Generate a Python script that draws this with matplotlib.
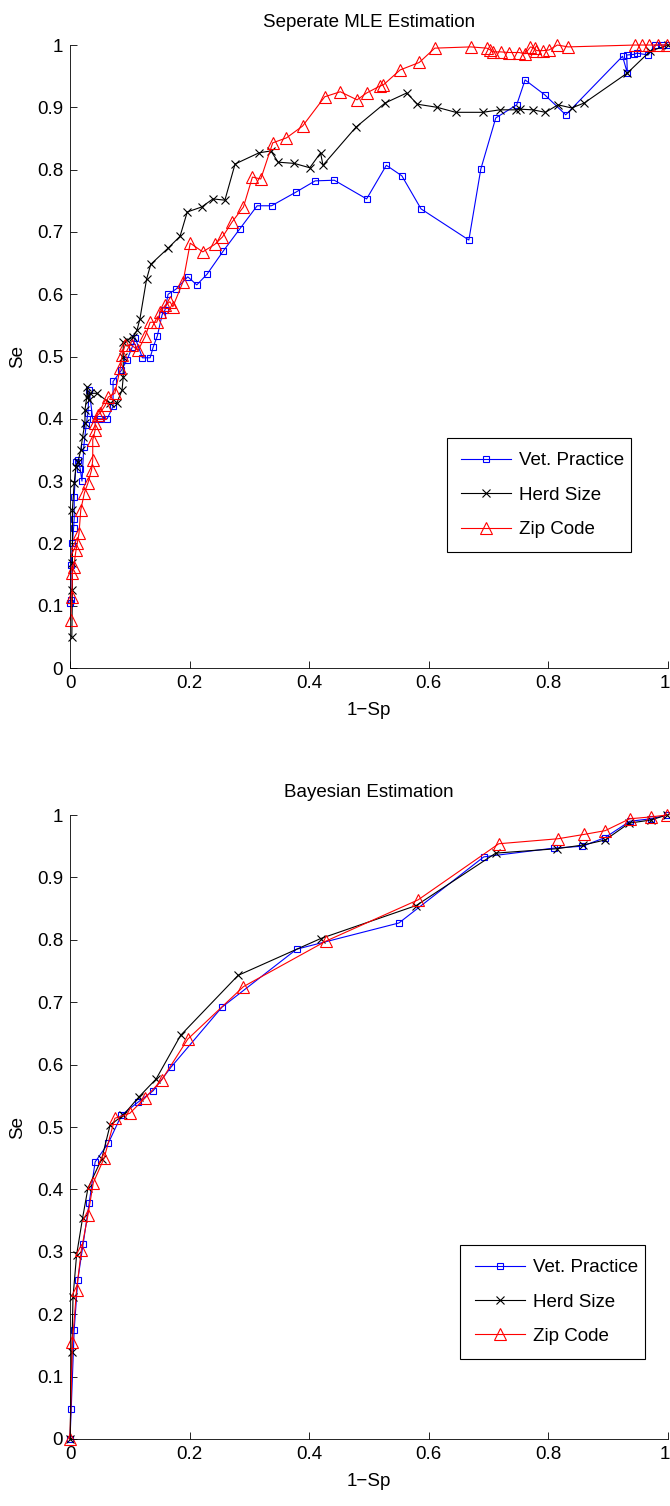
import matplotlib
matplotlib.use("Agg")
import matplotlib.pyplot as plt
from matplotlib.transforms import ScaledTranslation

plt.rcParams['font.family'] = ['Liberation Sans', 'DejaVu Sans']

# Seperate MLE estimation (1-Sp, Se)
mle_vet_x = [0.0, 0.001, 0.002, 0.004, 0.006, 0.007, 0.007, 0.01, 0.013, 0.017, 0.02, 0.023, 0.027, 0.03,
             0.032, 0.038, 0.05, 0.062, 0.072, 0.072, 0.086, 0.095, 0.104, 0.109, 0.121, 0.134, 0.139, 0.146,
             0.154, 0.159, 0.164, 0.177, 0.197, 0.212, 0.229, 0.256, 0.284, 0.313, 0.337, 0.378, 0.41, 0.442,
             0.496, 0.529, 0.555, 0.587, 0.667, 0.687, 0.712, 0.747, 0.761, 0.794, 0.829, 0.924, 0.932,
             0.931, 0.943, 0.948, 0.967, 0.978, 0.99, 1.0]
mle_vet_y = [0.105, 0.109, 0.165, 0.2, 0.225, 0.24, 0.275, 0.33, 0.334, 0.32, 0.30, 0.355, 0.39, 0.41,
             0.446, 0.40, 0.40, 0.40, 0.42, 0.46, 0.478, 0.494, 0.515, 0.53, 0.498, 0.498, 0.515, 0.533,
             0.567, 0.575, 0.60, 0.608, 0.628, 0.615, 0.632, 0.669, 0.705, 0.742, 0.742, 0.764, 0.782, 0.783,
             0.753, 0.807, 0.79, 0.737, 0.687, 0.801, 0.883, 0.904, 0.944, 0.92, 0.888, 0.982, 0.955,
             0.984, 0.985, 0.987, 0.984, 1.0, 1.0, 1.0]
mle_herd_x = [0.003, 0.004, 0.004, 0.004, 0.007, 0.01, 0.013, 0.018, 0.021, 0.025, 0.025, 0.028, 0.029,
              0.031, 0.034, 0.045, 0.067, 0.078, 0.087, 0.089, 0.089, 0.089, 0.095, 0.105, 0.112, 0.117,
              0.128, 0.135, 0.164, 0.184, 0.196, 0.220, 0.239, 0.259, 0.276, 0.316, 0.336, 0.348, 0.375,
              0.401, 0.419, 0.423, 0.478, 0.527, 0.563, 0.581, 0.614, 0.645, 0.69, 0.719, 0.746, 0.753,
              0.774, 0.795, 0.816, 0.839, 0.86, 0.932, 0.97, 1.0]
mle_herd_y = [0.05, 0.125, 0.168, 0.254, 0.297, 0.323, 0.33, 0.35, 0.371, 0.393, 0.414, 0.435, 0.451,
              0.43, 0.441, 0.441, 0.425, 0.425, 0.446, 0.467, 0.5, 0.523, 0.526, 0.531, 0.542, 0.561,
              0.624, 0.648, 0.674, 0.693, 0.732, 0.740, 0.753, 0.751, 0.809, 0.827, 0.830, 0.812, 0.81,
              0.803, 0.827, 0.807, 0.868, 0.907, 0.923, 0.905, 0.90, 0.892, 0.892, 0.896, 0.896, 0.897,
              0.896, 0.892, 0.904, 0.899, 0.907, 0.955, 0.99, 1.0]
mle_zip_x = [0.001, 0.003, 0.004, 0.006, 0.01, 0.012, 0.015, 0.018, 0.024, 0.03, 0.036, 0.038, 0.038,
             0.042, 0.042, 0.046, 0.05, 0.059, 0.064, 0.075, 0.084, 0.087, 0.092, 0.103, 0.114, 0.126,
             0.134, 0.145, 0.151, 0.159, 0.167, 0.172, 0.189, 0.201, 0.222, 0.242, 0.255, 0.271, 0.290,
             0.305, 0.319, 0.339, 0.362, 0.389, 0.426, 0.452, 0.480, 0.496, 0.518, 0.524, 0.552, 0.584,
             0.610, 0.67, 0.697, 0.703, 0.708, 0.72, 0.734, 0.751, 0.761, 0.770, 0.777, 0.78, 0.791,
             0.801, 0.815, 0.833, 0.945, 0.956, 0.968, 0.983, 0.998]
mle_zip_y = [0.077, 0.114, 0.152, 0.162, 0.189, 0.2, 0.216, 0.254, 0.281, 0.297, 0.318, 0.334, 0.366,
             0.382, 0.393, 0.406, 0.409, 0.422, 0.435, 0.441, 0.481, 0.502, 0.518, 0.518, 0.51, 0.533,
             0.555, 0.555, 0.571, 0.582, 0.588, 0.58, 0.62, 0.682, 0.668, 0.68, 0.692, 0.716, 0.74,
             0.788, 0.785, 0.843, 0.851, 0.870, 0.917, 0.925, 0.912, 0.923, 0.934, 0.936, 0.960, 0.972,
             0.995, 0.997, 0.995, 0.992, 0.989, 0.989, 0.988, 0.988, 0.986, 0.997, 0.995, 0.991, 0.991,
             0.992, 1.0, 0.997, 1.0, 1.0, 1.0, 1.0, 1.0]

# Bayesian estimation (1-Sp, Se)
bay_vet_x = [0.0, 0.002, 0.007, 0.013, 0.022, 0.032, 0.042, 0.064, 0.086, 0.114, 0.139, 0.169, 0.254,
             0.379, 0.550, 0.692, 0.809, 0.857, 0.895, 0.936, 0.971, 0.998]
bay_vet_y = [0.0, 0.048, 0.175, 0.255, 0.313, 0.378, 0.444, 0.474, 0.519, 0.540, 0.558, 0.596, 0.692,
             0.785, 0.827, 0.933, 0.947, 0.950, 0.964, 0.99, 0.994, 1.0]
bay_herd_x = [0.0, 0.003, 0.005, 0.011, 0.021, 0.03, 0.053, 0.067, 0.089, 0.115, 0.144, 0.185, 0.281,
              0.419, 0.579, 0.712, 0.814, 0.858, 0.895, 0.935, 0.971, 0.998]
bay_herd_y = [0.0, 0.139, 0.227, 0.295, 0.354, 0.402, 0.449, 0.503, 0.519, 0.548, 0.577, 0.647, 0.743,
              0.802, 0.855, 0.939, 0.946, 0.952, 0.960, 0.987, 0.992, 1.0]
bay_zip_x = [0.0, 0.004, 0.011, 0.019, 0.03, 0.039, 0.057, 0.075, 0.10, 0.125, 0.153, 0.197, 0.29,
             0.428, 0.582, 0.717, 0.816, 0.860, 0.895, 0.936, 0.971, 0.998]
bay_zip_y = [0.0, 0.155, 0.239, 0.303, 0.359, 0.411, 0.450, 0.514, 0.522, 0.546, 0.575, 0.641, 0.725,
             0.798, 0.864, 0.954, 0.962, 0.969, 0.975, 0.994, 0.997, 1.0]

labels = ['Vet. Practice', 'Herd Size', 'Zip Code']
titles = ['Seperate MLE Estimation', 'Bayesian Estimation']
ticks = [0, 0.2, 0.4, 0.6, 0.8, 1]
yticks = [0, 0.1, 0.2, 0.3, 0.4, 0.5, 0.6, 0.7, 0.8, 0.9, 1]


def tick_text(v):
    return '%g' % v


fig = plt.figure(figsize=(6.7, 15.06), dpi=100)
ax1 = fig.add_axes([0.1045, 0.5564, 0.8925, 0.4137])
ax2 = fig.add_axes([0.1045, 0.0445, 0.8925, 0.4143])

# legend boxes: (x0, top, width) in axes coords
panels = [
    (ax1, (mle_vet_x, mle_vet_y), (mle_herd_x, mle_herd_y), (mle_zip_x, mle_zip_y), (0.63, 0.369, 0.308)),
    (ax2, (bay_vet_x, bay_vet_y), (bay_herd_x, bay_herd_y), (bay_zip_x, bay_zip_y), (0.653, 0.311, 0.308)),
]

fs = 13.5

for i, (ax, vet, herd, zipc, legbox) in enumerate(panels):
    ax.plot(vet[0], vet[1], color='#0000ff', lw=0.8, marker='s', ms=4.5, mfc='none', mew=0.8,
            label=labels[0], clip_on=False)
    ax.plot(herd[0], herd[1], color='black', lw=0.8, marker='x', ms=5.5, mew=0.8,
            label=labels[1], clip_on=False)
    ax.plot(zipc[0], zipc[1], color='#ff0000', lw=0.8, marker='^', ms=8.5, mfc='none', mew=0.8,
            label=labels[2], clip_on=False)
    ax.set_xlim(0, 1)
    ax.set_ylim(0, 1)
    ax.set_xticks(ticks)
    ax.set_xticklabels([tick_text(t) for t in ticks])
    ax.set_yticks(yticks)
    ax.set_yticklabels([tick_text(t) for t in yticks])
    ax.tick_params(direction='in', length=5, width=0.6, labelsize=fs, pad=5)
    # keep the last x label inside the figure edge
    last = ax.get_xticklabels()[-1]
    last.set_transform(last.get_transform() + ScaledTranslation(-3 / 100, 0, fig.dpi_scale_trans))
    ax.spines['top'].set_visible(False)
    ax.spines['right'].set_visible(False)
    ax.spines['left'].set_linewidth(0.6)
    ax.spines['bottom'].set_linewidth(0.6)
    ax.set_title(titles[i], fontsize=fs, pad=13)
    ax.set_xlabel('1\u2212Sp', fontsize=fs, labelpad=7)
    ax.set_ylabel('Se', fontsize=fs, labelpad=8)
    leg = ax.legend(loc='upper left', bbox_to_anchor=(legbox[0], legbox[1], legbox[2], 0), mode='expand',
                    fontsize=fs, fancybox=False, edgecolor='black', framealpha=1, handlelength=2.7,
                    borderaxespad=0, labelspacing=0.92, handletextpad=0.4, borderpad=0.75)
    leg.get_frame().set_linewidth(0.8)

fig.savefig('out.png', dpi=100)
